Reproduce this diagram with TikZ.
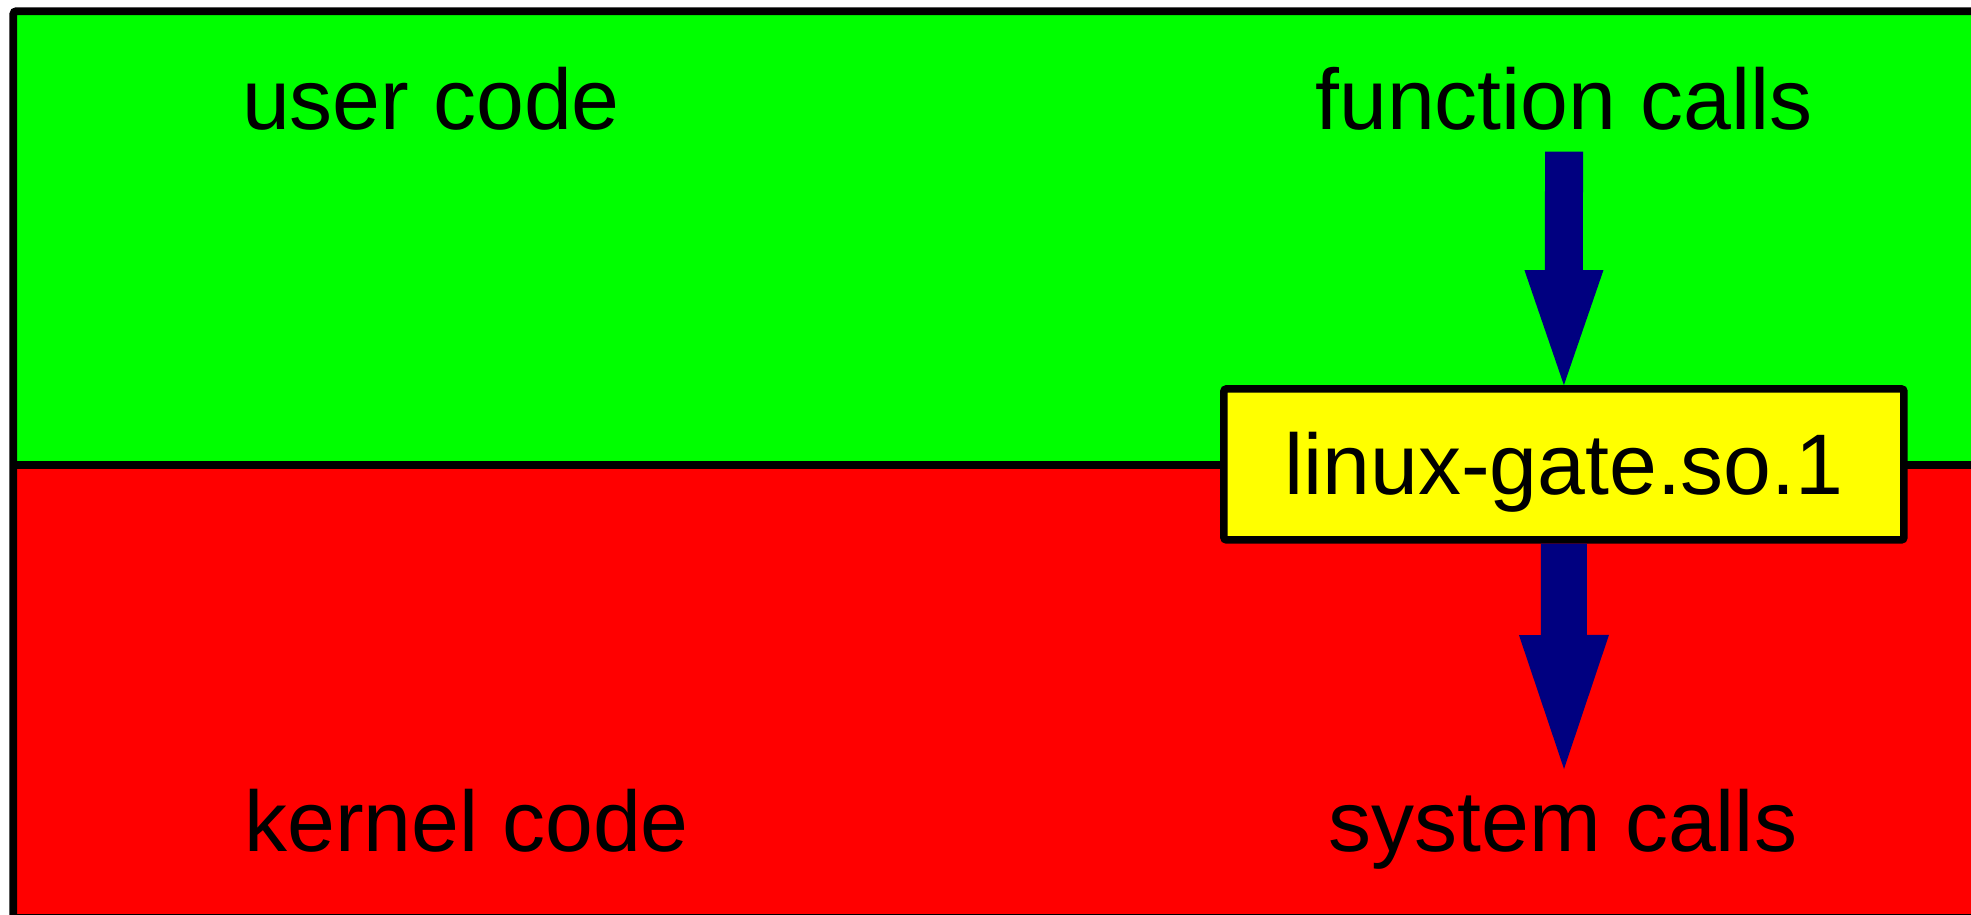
\documentclass[tikz,border=0pt]{standalone}
\usepackage{fontspec}
\setmainfont{Liberation Sans}
\usetikzlibrary{arrows.meta}
\definecolor{layergreen}{HTML}{00FF00}
\definecolor{layerred}{HTML}{FF0000}
\definecolor{gateyellow}{HTML}{FFFF00}
\definecolor{arrownavy}{HTML}{000080}
\tikzset{
  lbl/.style={inner sep=0pt, anchor=base, font=\fontsize{86}{100}\selectfont},
  gatebox/.style={draw=black, line width=7.5pt, fill=gateyellow, rounded corners=2.5pt,
    minimum width=680pt, minimum height=151pt, inner sep=0pt,
    text height=60pt, text depth=0pt, font=\fontsize{86}{100}\selectfont},
  bigarrow/.style={draw=arrownavy, line cap=butt}
}
\begin{document}
\begin{tikzpicture}[x=1pt,y=-1pt]
\useasboundingbox (0,0) rectangle (1971,915);
% layers
\fill[layergreen] (13.3,11.2) rectangle (1990,464.7);
\fill[layerred] (13.3,464.7) rectangle (1990,918);
\draw[line width=8pt] (13.3,464.7) -- (1990,464.7);
\draw[line width=7.8pt, rounded corners=3pt] (1990,918) -- (13.3,918) -- (13.3,11.2) -- (1990,11.2);
% labels
\node[lbl] (user) at (431,129.5) {user code};
\node[lbl] (func) at (1564,129.5) {function calls};
\node[lbl] (kern) at (466.5,851) {kernel code};
\node[lbl] (sys) at (1563,851) {system calls};
% gate box
\node[gatebox] (gate) at (1563.9,464.4) {linux-gate.so.1};
% arrows
\coordinate (upstart) at (1564,151.6);
\coordinate (downend) at (1564,769);
\draw[bigarrow, line width=38pt, -{Triangle[length=115pt,width=79pt,line width=0pt]}] (upstart) -- (gate.north);
\draw[bigarrow, line width=46pt, -{Triangle[length=134pt,width=90pt,line width=0pt]}] (gate.south) -- (downend);
\end{tikzpicture}
\end{document}
